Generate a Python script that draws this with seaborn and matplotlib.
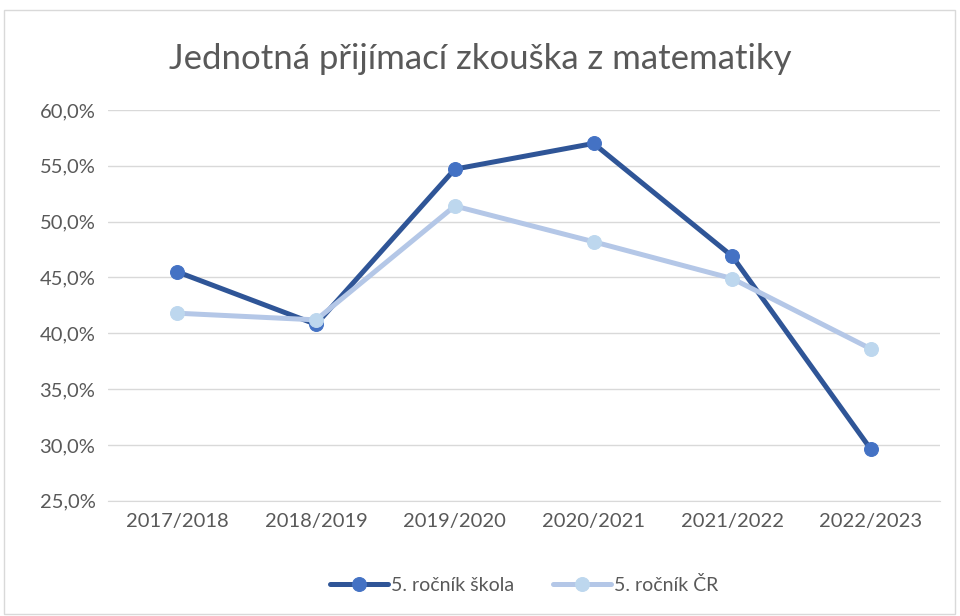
import pandas as pd
import matplotlib.pyplot as plt
import seaborn as sns
from matplotlib.patches import Rectangle
from matplotlib.ticker import FuncFormatter

# data
years = ["2017/2018", "2018/2019", "2019/2020", "2020/2021", "2021/2022", "2022/2023"]
skola = [45.5, 40.8, 54.7, 57.0, 46.9, 29.6]
cr = [41.8, 41.2, 51.4, 48.2, 44.9, 38.6]
series_names = ["5. ročník škola", "5. ročník ČR"]

sns.set_style("white")
plt.rcParams['font.family'] = ['Lato', 'DejaVu Sans']

df = pd.DataFrame({"rok": years * 2,
                   "hodnota": skola + cr,
                   "rada": [series_names[0]] * 6 + [series_names[1]] * 6})

fig = plt.figure(figsize=(9.6, 6.16), dpi=100)
ax = fig.add_axes([0.1125, 0.187, 0.867, 0.6345])

# chart border
fig.add_artist(Rectangle((0.004, 0.004), 0.991, 0.98, transform=fig.transFigure,
                         fill=False, edgecolor="#D9D9D9", linewidth=1))

line_cols = {series_names[0]: "#2F5597", series_names[1]: "#B4C7E7"}
mark_cols = {series_names[0]: "#4472C4", series_names[1]: "#BDD7EE"}

for name in series_names:
    sub = df[df["rada"] == name]
    sns.lineplot(data=sub, x="rok", y="hodnota", sort=False, ax=ax,
                 color=line_cols[name], linewidth=3.6, marker="o",
                 markersize=10, markerfacecolor=mark_cols[name],
                 markeredgecolor=mark_cols[name], label=name)

ax.set_ylim(25, 60)
ax.set_xlim(-0.5, 5.5)
ax.set_yticks(range(25, 61, 5))
ax.yaxis.set_major_formatter(FuncFormatter(lambda v, p: f"{v:.1f}%".replace(".", ",")))
ax.grid(axis="y", color="#D9D9D9", linewidth=1)
ax.set_axisbelow(True)
for s in ["top", "left", "right"]:
    ax.spines[s].set_visible(False)
ax.spines["bottom"].set_color("#D9D9D9")
ax.tick_params(axis="both", length=0, labelsize=14.5, colors="#595959", pad=9)
ax.set_xlabel("")
ax.set_ylabel("")

fig.text(0.5, 0.905, "Jednotná přijímací zkouška z matematiky",
         ha="center", va="center", fontsize=25, color="#595959")

ax.legend(loc="center", bbox_to_anchor=(0.5, -0.215), ncol=2, frameon=False,
          fontsize=14, labelcolor="#595959", handlelength=3.0,
          handletextpad=0.15, columnspacing=2.0)

fig.savefig("out.png", dpi=100)
